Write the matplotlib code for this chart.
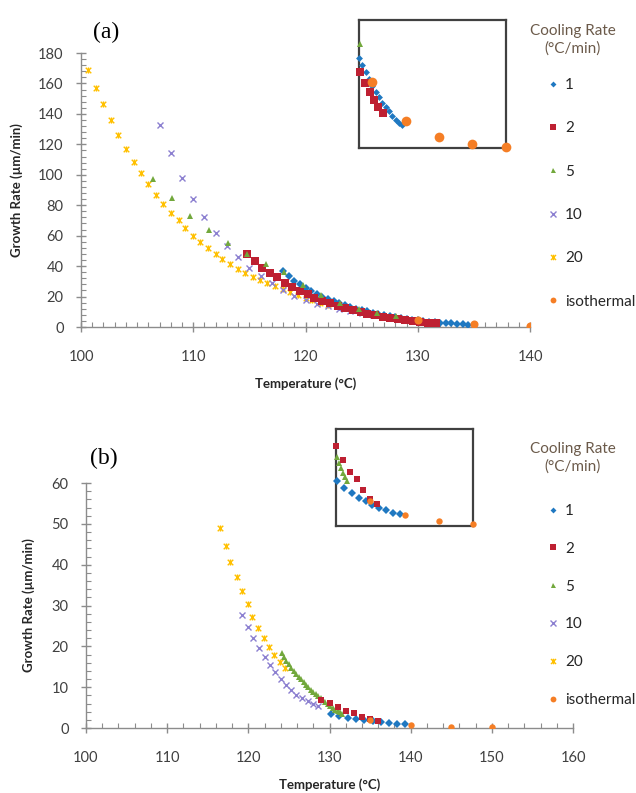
import numpy as np
import matplotlib
matplotlib.use("Agg")
import matplotlib.pyplot as plt
from matplotlib.path import Path
from matplotlib.ticker import MultipleLocator
from matplotlib.lines import Line2D

plt.rcParams['font.family'] = ['Lato', 'DejaVu Sans']

# ---------------- panel (a) data ----------------
a_T1 = [118.0, 118.5, 119.0, 119.5, 120.0, 120.5, 121.0, 121.5, 122.0, 122.5,
        123.0, 123.5, 124.0, 124.5, 125.0, 125.5, 126.0, 126.5, 127.0, 127.5,
        128.0, 128.5, 129.0, 129.5, 130.0, 130.5, 131.0, 131.5, 132.0, 132.5,
        133.0, 133.5, 134.0, 134.5]
a_G1 = [36.5, 33.5, 30.5, 28.0, 25.5, 23.5, 21.5, 19.8, 18.2, 16.8,
        15.5, 14.3, 13.2, 12.1, 11.1, 10.2, 9.3, 8.5, 7.7, 7.0,
        6.4, 5.9, 5.4, 4.9, 4.4, 4.0, 3.6, 3.2, 2.9, 2.6,
        2.3, 2.0, 1.8, 1.6]
a_T2 = [114.8, 115.5, 116.1, 116.8, 117.5, 118.2, 118.8, 119.5, 120.2, 120.8,
        121.5, 122.2, 122.9, 123.5, 124.2, 124.9, 125.5, 126.2, 126.9, 127.5,
        128.2, 128.9, 129.6, 130.2, 130.9, 131.6]
a_G2 = [48.0, 43.5, 39.0, 35.7, 32.6, 29.0, 26.5, 23.8, 21.5, 19.2,
        17.0, 15.5, 13.8, 12.3, 11.2, 10.0, 8.6, 7.6, 6.7, 6.0,
        5.4, 4.6, 4.0, 3.4, 2.9, 2.5]
a_T5 = [106.4, 108.1, 109.7, 111.4, 113.1, 114.8, 116.5, 118.1, 119.8, 121.4,
        123.1, 124.8, 126.4, 128.1]
a_G5 = [97.0, 84.5, 73.0, 64.0, 55.5, 48.0, 41.5, 36.0, 27.6, 21.0,
        16.0, 11.6, 9.0, 7.4]
a_T10 = [107.0, 108.0, 109.0, 110.0, 111.0, 112.0, 113.0, 114.0, 115.0, 116.0,
         117.0, 118.0, 119.0, 120.0, 121.0, 122.0, 123.0, 124.0, 125.0, 126.0]
a_G10 = [133.0, 114.0, 98.0, 84.0, 72.0, 62.0, 53.5, 45.7, 39.0, 33.8,
         28.7, 24.3, 20.6, 18.0, 15.3, 13.6, 12.0, 10.5, 9.2, 8.0]
a_T20 = [100.65, 101.3, 102.0, 102.7, 103.3, 104.0, 104.7, 105.35, 106.0, 106.65,
         107.3, 108.0, 108.7, 109.3, 110.0, 110.6, 111.3, 112.0, 112.6, 113.3,
         114.0, 114.6, 115.3, 115.95, 116.6, 117.3, 118.0, 118.6, 119.3, 120.0,
         120.6, 121.3, 122.0]
a_G20 = [169.0, 157.0, 146.5, 136.0, 126.0, 117.0, 108.7, 101.0, 94.0, 87.0,
         81.0, 75.0, 70.0, 65.0, 60.0, 55.6, 51.6, 48.0, 44.5, 41.4,
         38.4, 35.7, 33.0, 31.0, 28.7, 27.0, 24.8, 22.8, 21.0, 19.0,
         17.5, 16.0, 14.6]
a_Tiso = [130.0, 135.0, 140.0, 145.0, 150.0]
a_Giso = [4.7, 1.9, 0.8, 0.3, 0.1]

# ---------------- panel (b) data ----------------
b_T1 = [130.2, 131.2, 132.3, 133.3, 134.3, 135.3, 136.3, 137.3, 138.3, 139.3]
b_G1 = [3.5, 2.95, 2.55, 2.2, 1.9, 1.65, 1.4, 1.2, 1.03, 0.9]
b_T2 = [129.0, 130.0, 131.0, 132.0, 133.0, 134.0, 135.0, 136.0]
b_G2 = [6.9, 6.2, 5.1, 4.2, 3.6, 2.8, 2.1, 1.7]
b_T5 = [124.1, 124.4, 124.7, 125.0, 125.3, 125.6, 125.9, 126.2, 126.5, 126.8,
        127.1, 127.4, 127.7, 128.0, 128.3, 128.6, 128.9, 129.2, 129.5, 129.8,
        130.1, 130.4, 130.7, 131.0, 131.3, 131.6]
b_G5 = [18.4, 17.4, 16.4, 15.6, 14.8, 14.0, 13.3, 12.6, 11.9, 11.2,
        10.6, 10.0, 9.4, 8.8, 8.3, 7.8, 7.3, 6.8, 6.3, 5.8,
        5.3, 4.9, 4.5, 4.1, 3.8, 3.5]
b_T10 = [119.25, 120.0, 120.6, 121.3, 122.0, 122.7, 123.3, 124.0, 124.6, 125.3,
         125.9, 126.6, 127.3, 128.0, 128.6]
b_G10 = [27.7, 24.8, 22.1, 19.7, 17.5, 15.4, 13.7, 12.0, 10.5, 9.3,
         8.2, 7.3, 6.5, 5.9, 5.3]
b_T20 = [116.5, 117.25, 117.8, 118.55, 119.2, 119.9, 120.5, 121.2, 121.9, 122.5,
         123.2, 123.9, 124.5]
b_G20 = [49.0, 44.6, 40.6, 36.9, 33.5, 30.3, 27.3, 24.5, 22.0, 19.9,
         17.9, 16.2, 14.6]
b_Tiso = [135.0, 140.0, 145.0, 150.0]
b_Giso = [1.9, 0.85, 0.35, 0.13]

labels = ['1', '2', '5', '10', '20', 'isothermal']
colors = ['#1F78C1', '#BE2032', '#72A83C', '#8C80D0', '#FFC000', '#F57E25']

# excel style "star" marker: x plus a vertical bar
star = Path([(-1, -1), (1, 1), (-1, 1), (1, -1), (0, -1.1), (0, 1.1)],
            [Path.MOVETO, Path.LINETO, Path.MOVETO, Path.LINETO, Path.MOVETO, Path.LINETO])
markers = ['D', 's', '^', 'x', star, 'o']

W, H = 636, 793
fig = plt.figure(figsize=(W / 100, H / 100), dpi=100)


def px_axes(l, r, t, b):
    return fig.add_axes([l / W, 1 - b / H, (r - l) / W, (b - t) / H])


def draw(ax, data, sizes, order, inset=None):
    for i in order:
        T, G = data[i]
        T = np.asarray(T)
        G = np.asarray(G)
        if inset is not None:
            x0, x1, y1 = inset
            m = (T >= x0 - 0.05) & (T <= x1 + 0.05) & (G <= y1)
            T, G = T[m], G[m]
        mew = 1.0 if i in (3, 4) else 0
        ax.plot(T, G, ls='none', marker=markers[i], ms=sizes[i], color=colors[i],
                mec=colors[i], mew=mew, clip_on=inset is None, zorder=3)


def style_main(ax, xlim, ylim, xmaj, xmin, ymaj, ymin):
    ax.set_xlim(*xlim)
    ax.set_ylim(*ylim)
    for s in ['top', 'right']:
        ax.spines[s].set_visible(False)
    for s in ['left', 'bottom']:
        ax.spines[s].set_color('#8C8C8C')
        ax.spines[s].set_linewidth(1.0)
    ax.xaxis.set_major_locator(MultipleLocator(xmaj))
    ax.xaxis.set_minor_locator(MultipleLocator(xmin))
    ax.yaxis.set_major_locator(MultipleLocator(ymaj))
    ax.yaxis.set_minor_locator(MultipleLocator(ymin))
    ax.tick_params(which='major', direction='inout', length=7, width=1, color='#8C8C8C',
                   labelsize=10.5, labelcolor='#404040')
    ax.tick_params(which='minor', direction='in', length=3.5, width=0.8, color='#8C8C8C')
    ax.tick_params(axis='x', which='major', pad=13)
    ax.tick_params(axis='y', which='major', pad=9)


def style_inset(ax, xlim, ylim):
    ax.set_xlim(*xlim)
    ax.set_ylim(*ylim)
    ax.set_xticks([])
    ax.set_yticks([])
    for s in ax.spines.values():
        s.set_color('#404040')
        s.set_linewidth(1.6)
    ax.patch.set_alpha(0)


def add_legend(ax, x, y, title_y, spacing):
    handles = []
    lsz = [3.0, 4.0, 3.6, 4.0, 4.0, 4.2]
    for i in range(6):
        mew = 1.0 if i in (3, 4) else 0
        handles.append(Line2D([], [], ls='none', marker=markers[i], ms=lsz[i],
                              color=colors[i], mec=colors[i], mew=mew))
    leg = ax.legend(handles, labels, loc='upper left', bbox_to_anchor=(x / W, 1 - y / H),
                    bbox_transform=fig.transFigure, frameon=False, fontsize=11,
                    labelspacing=spacing, handlelength=0.6, handletextpad=0.5,
                    borderaxespad=0, borderpad=0)
    for t in leg.get_texts():
        t.set_color('#262626')
    fig.text(573 / W, 1 - title_y / H, 'Cooling Rate\n(°C/min)', fontsize=11,
             color='#6B5A4A', ha='center', va='center', linespacing=1.25)
    return leg


order_a = [4, 3, 0, 1, 2, 5]
size_a = [4.0, 5.2, 5.0, 5.0, 4.4, 5.8]

# ---------------- panel (a) ----------------
data_a = [(a_T1, a_G1), (a_T2, a_G2), (a_T5, a_G5), (a_T10, a_G10),
          (a_T20, a_G20), (a_Tiso, a_Giso)]
axa = px_axes(81, 530, 53, 327)
style_main(axa, (100, 140), (0, 180), 10, 1, 20, 4)
draw(axa, data_a, size_a, order_a)
axa.set_xlabel('Temperature (°C)', fontsize=9.5, fontweight='bold', color='#262626', labelpad=10)
axa.set_ylabel('Growth Rate (µm/min)', fontsize=9.5, fontweight='bold', color='#262626', labelpad=11)
fig.text(93 / W, 1 - 32 / H, '(a)', fontsize=17, family='Liberation Serif', va='center', ha='left')

ina = px_axes(359, 505.5, 20, 148)
style_inset(ina, (128, 150), (0, 9.1))
draw(ina, data_a, [3.5, 5.6, 5.0, 5.0, 4.4, 7.0], order_a, inset=(128, 150, 9.1))
add_legend(axa, 548, 78, 40, 1.92)

# ---------------- panel (b) ----------------
data_b = [(b_T1, b_G1), (b_T2, b_G2), (b_T5, b_G5), (b_T10, b_G10),
          (b_T20, b_G20), (b_Tiso, b_Giso)]
order_b = [4, 3, 0, 2, 1, 5]
size_b = [3.6, 5.0, 4.8, 4.8, 4.4, 4.6]
axb = px_axes(86, 573, 483, 728)
style_main(axb, (100, 160), (0, 60), 10, 2, 10, 2)
draw(axb, data_b, size_b, order_b)
axb.set_xlabel('Temperature (°C)', fontsize=9.5, fontweight='bold', color='#262626', labelpad=10)
axb.set_ylabel('Growth Rate (µm/min)', fontsize=9.5, fontweight='bold', color='#262626', labelpad=12)
fig.text(90 / W, 1 - 458 / H, '(b)', fontsize=17, family='Liberation Serif', va='center', ha='left')

inb = px_axes(336, 473.3, 429, 526)
style_inset(inb, (130, 150), (0, 7.5))
draw(inb, data_b, [3.6, 5.0, 4.6, 4.8, 4.4, 4.6], order_b, inset=(130, 150, 7.5))
add_legend(axb, 548, 504, 458, 1.56)

fig.savefig('out.png', dpi=100)
